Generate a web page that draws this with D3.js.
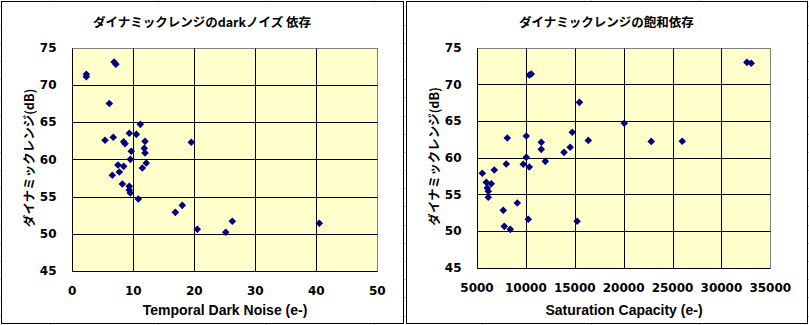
<!DOCTYPE html>
<html>
<head>
<meta charset="utf-8">
<script src="https://cdn.jsdelivr.net/npm/d3@7/dist/d3.min.js"></script>
<style>
  html, body { margin: 0; padding: 0; background: #ffffff; }
  svg { display: block; }
  .jp { font-family: "Noto Sans CJK JP", "Noto Sans", sans-serif; font-weight: bold; }
  .tick-label { font-family: "DejaVu Sans", sans-serif; font-weight: bold; font-size: 12px; fill: #000; }
  .axis-title { font-family: "Liberation Sans", Arial, sans-serif; font-weight: bold; font-size: 14px; fill: #000; }
</style>
</head>
<body>
<svg id="chart" width="809" height="325"></svg>
<script>
// Dynamic range vs. temporal dark noise (e-)
const noiseX = [2.3, 2.3, 6.85, 7.15, 6.07, 11.15, 9.34, 10.5, 5.36, 6.72, 8.42, 8.64,
  11.92, 11.8, 11.92, 9.67, 9.51, 12.13, 11.48, 7.49, 8.42, 7.7, 6.56, 8.2,
  9.34, 9.34, 9.51, 10.82, 16.89, 18.03, 20.49, 25.15, 26.23, 40.49, 19.51];
const noiseDR = [71.1, 71.43, 73.08, 72.77, 67.5, 64.7, 63.5, 63.36, 62.56, 62.96, 62.37, 62.1,
  62.42, 61.48, 60.85, 61.08, 60.0, 59.5, 58.84, 59.24, 59.06, 58.3, 57.86, 56.69,
  56.38, 55.88, 55.48, 54.67, 52.88, 53.82, 50.6, 50.2, 51.68, 51.41, 62.29];

// Dynamic range vs. saturation capacity (e-)
const satX = [8098, 10041, 11575, 11575, 13900, 10041, 7996, 9734, 10348, 11984, 6770, 5542,
  5951, 6462, 6053, 6155, 6155, 9120, 7689, 10245, 7791, 8405, 14748, 14527,
  15243, 15480, 16383, 20065, 22822, 25992, 32607, 33047, 10348, 10552];
const satDR = [62.69, 62.96, 62.1, 61.14, 60.73, 60.05, 59.14, 59.1, 58.73, 59.5, 58.32, 57.87,
  56.64, 56.45, 55.87, 55.42, 54.6, 53.82, 52.82, 51.6, 50.64, 50.23, 63.47, 61.43,
  51.33, 67.55, 62.36, 64.7, 62.22, 62.24, 73.0, 72.87, 71.28, 71.41];

// Axis ticks and text
const yTicks = [45, 50, 55, 60, 65, 70, 75];
const noiseTicks = [0, 10, 20, 30, 40, 50];
const satTicks = [5000, 10000, 15000, 20000, 25000, 30000, 35000];
const titles = ["ダイナミックレンジのdarkノイズ 依存", "ダイナミックレンジの飽和依存"];
const yTitle = "ダイナミックレンジ(dB)";
const xTitles = ["Temporal Dark Noise (e-)", "Saturation Capacity (e-)"];

const svg = d3.select("#chart");

// Worksheet cell grid behind the charts
const sheet = svg.append("g").attr("stroke", "#c8c8c8").attr("stroke-width", 1);
for (let y = 6.3; y < 325; y += 18.2) {
  sheet.append("line").attr("x1", 0).attr("x2", 809)
    .attr("y1", Math.round(y) + 0.5).attr("y2", Math.round(y) + 0.5);
}
for (let x = 50; x < 809; x += 108.1) {
  sheet.append("line").attr("y1", 0).attr("y2", 325)
    .attr("x1", Math.round(x) + 0.5).attr("x2", Math.round(x) + 0.5);
}

const crisp = v => Math.round(v) + 0.5;
const diamond = "M0,-3.8L3.8,0L0,3.8L-3.8,0Z";

function drawChart(cfg) {
  const g = svg.append("g");

  // chart frame
  g.append("rect")
    .attr("x", cfg.frame[0] + 0.5).attr("y", cfg.frame[1] + 0.5)
    .attr("width", cfg.frame[2]).attr("height", cfg.frame[3])
    .attr("fill", "#ffffff").attr("stroke", "#000").attr("stroke-width", 1);

  const x = d3.scaleLinear().domain(cfg.xDomain).range([cfg.plot[0], cfg.plot[1]]);
  const y = d3.scaleLinear().domain([45, 75]).range([cfg.plot[3], cfg.plot[2]]);
  const px0 = crisp(x(cfg.xDomain[0])), px1 = crisp(x(cfg.xDomain[1]));
  const py0 = crisp(y(75)), py1 = crisp(y(45));

  // plot area
  g.append("rect")
    .attr("x", px0).attr("y", py0)
    .attr("width", px1 - px0).attr("height", py1 - py0)
    .attr("fill", "#ffffcc").attr("stroke", "#808080").attr("stroke-width", 1);

  // gridlines
  const grid = g.append("g").attr("stroke", "#000").attr("stroke-width", 1);
  grid.selectAll(".hy").data(yTicks.filter(t => t > 45 && t < 75)).join("line")
    .attr("x1", px0).attr("x2", px1)
    .attr("y1", d => crisp(y(d))).attr("y2", d => crisp(y(d)));
  grid.selectAll(".vx").data(cfg.xTicks.slice(1, -1)).join("line")
    .attr("y1", py0).attr("y2", py1)
    .attr("x1", d => crisp(x(d))).attr("x2", d => crisp(x(d)));

  // axis lines
  grid.append("line").attr("x1", px0).attr("x2", px0).attr("y1", py0).attr("y2", py1);
  grid.append("line").attr("x1", px0).attr("x2", px1).attr("y1", py1).attr("y2", py1);

  // tick labels
  g.selectAll(".yl").data(yTicks).join("text")
    .attr("class", "tick-label")
    .attr("x", px0 - 16).attr("y", d => y(d))
    .attr("dy", "0.36em").attr("text-anchor", "end")
    .text(d => d);
  g.selectAll(".xl").data(cfg.xTicks).join("text")
    .attr("class", "tick-label")
    .attr("x", d => x(d)).attr("y", py1 + 19)
    .attr("dy", "0.36em").attr("text-anchor", "middle")
    .text(d => d);

  // titles
  g.append("text").attr("class", "jp")
    .attr("x", cfg.frame[0] + cfg.frame[2] / 2).attr("y", 27)
    .attr("text-anchor", "middle").attr("font-size", 12.5)
    .text(cfg.title);
  g.append("text").attr("class", "jp")
    .attr("transform", `translate(${cfg.frame[0] + 33},${(py0 + py1) / 2 - 2}) rotate(-90)`)
    .attr("text-anchor", "middle").attr("font-size", 12.5)
    .text(yTitle);
  g.append("text").attr("class", "axis-title")
    .attr("x", (px0 + px1) / 2).attr("y", 315)
    .attr("text-anchor", "middle")
    .text(cfg.xTitle);

  // points
  g.append("g").selectAll("path").data(cfg.xs.map((v, i) => [v, cfg.ys[i]])).join("path")
    .attr("d", diamond)
    .attr("transform", d => `translate(${x(d[0])},${y(d[1])})`)
    .attr("fill", "#000080");
}

drawChart({
  frame: [1, 1, 402, 322],
  plot: [72.3, 377.3, 47.7, 271],
  xDomain: [0, 50], xTicks: noiseTicks,
  title: titles[0], xTitle: xTitles[0],
  xs: noiseX, ys: noiseDR
});

drawChart({
  frame: [406, 1, 401, 322],
  plot: [477, 770.3, 47.7, 267.7],
  xDomain: [5000, 35000], xTicks: satTicks,
  title: titles[1], xTitle: xTitles[1],
  xs: satX, ys: satDR
});
</script>
</body>
</html>
